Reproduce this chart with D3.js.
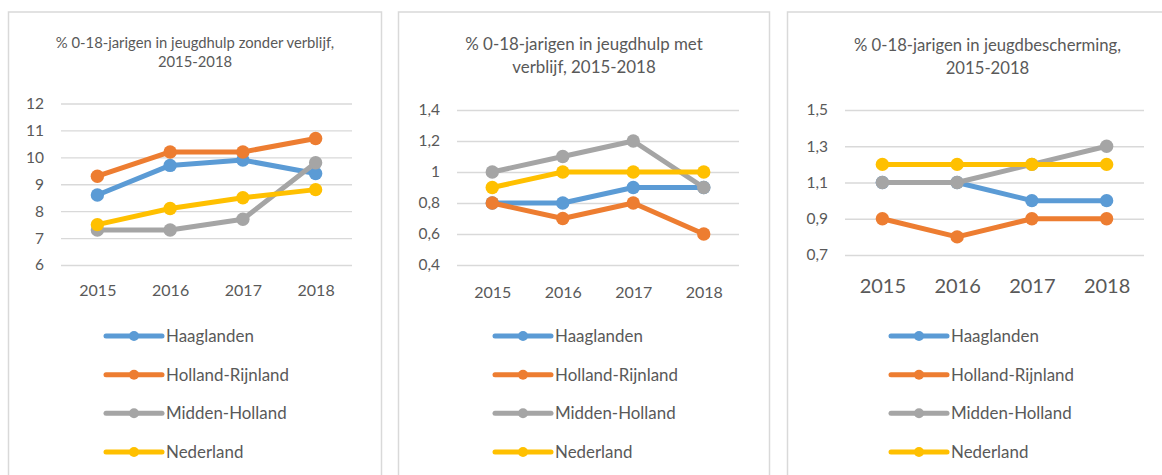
<!DOCTYPE html>
<html>
<head>
<meta charset="utf-8">
<script src="https://cdn.jsdelivr.net/npm/d3@7"></script>
<style>
  body { margin: 0; background: #fff; }
  svg { display: block; font-family: Lato, "Open Sans", sans-serif; }
  .tick line { stroke: #d9d9d9; stroke-width: 1.3; }
  text { fill: #595959; }
</style>
</head>
<body>
<div id="chart"></div>
<script>
const years = ['2015', '2016', '2017', '2018']
const seriesNames = ['Haaglanden', 'Holland-Rijnland', 'Midden-Holland', 'Nederland']
const seriesColors = ['#5b9bd5', '#ed7d31', '#a5a5a5', '#ffc000']

// % 0-18-jarigen in jeugdhulp zonder verblijf (rows follow seriesNames)
const zonderVerblijf = [
    [8.6, 9.7, 9.9, 9.4],
    [9.3, 10.2, 10.2, 10.7],
    [7.3, 7.3, 7.7, 9.8],
    [7.5, 8.1, 8.5, 8.8]
]
const ticksZonder = [6, 7, 8, 9, 10, 11, 12]

// % 0-18-jarigen in jeugdhulp met verblijf
const metVerblijf = [
    [0.8, 0.8, 0.9, 0.9],
    [0.8, 0.7, 0.8, 0.6],
    [1.0, 1.1, 1.2, 0.9],
    [0.9, 1.0, 1.0, 1.0]
]
const ticksMet = [0.4, 0.6, 0.8, 1.0, 1.2, 1.4]

// % 0-18-jarigen in jeugdbescherming
const bescherming = [
    [1.1, 1.1, 1.0, 1.0],
    [0.9, 0.8, 0.9, 0.9],
    [1.1, 1.1, 1.2, 1.3],
    [1.2, 1.2, 1.2, 1.2]
]
const ticksBescherming = [0.7, 0.9, 1.1, 1.3, 1.5]

const nl = d3.formatLocale({ decimal: ',', thousands: '.', grouping: [3], currency: ['€', ''] })

// layout of the three panels
const panels = [
    {
        title: ['% 0-18-jarigen in jeugdhulp zonder verblijf,', '2015-2018'],
        titleSize: 14.8, titleY: [47.5, 66.5],
        data: zonderVerblijf, ticks: ticksZonder, fmt: nl.format('d'),
        box: [8.5, 381.5], plot: { left: 61, right: 352, top: 103.5, bottom: 265 },
        xSize: 16, xPad: 20, legendX: 106
    },
    {
        title: ['% 0-18-jarigen in jeugdhulp met', 'verblijf, 2015-2018'],
        titleSize: 16.9, titleY: [50, 72.5],
        data: metVerblijf, ticks: ticksMet, fmt: d => nl.format('~g')(d),
        box: [398.5, 769.5], plot: { left: 457, right: 739, top: 110, bottom: 265 },
        xSize: 16, xPad: 22, legendX: 495
    },
    {
        title: ['% 0-18-jarigen in jeugdbescherming,', '2015-2018'],
        titleSize: 16.7, titleY: [51, 74],
        data: bescherming, ticks: ticksBescherming, fmt: nl.format('.1f'),
        box: [787.5, 1187.5], plot: { left: 845, right: 1144, top: 110, bottom: 255 },
        xSize: 20, xPad: 24, legendX: 891
    }
]

const legendRows = [336, 374.7, 413.3, 452]

const svg = d3.select('#chart')
    .append('svg')
    .attr('width', 1162)
    .attr('height', 475)

panels.forEach(p => {
    const g = svg.append('g')

    // frame
    g.append('rect')
        .attr('x', p.box[0])
        .attr('y', 12)
        .attr('width', p.box[1] - p.box[0])
        .attr('height', 500)
        .attr('fill', '#fff')
        .attr('stroke', '#d9d9d9')
        .attr('stroke-width', 1.5)

    // title
    const centre = (p.box[0] + p.box[1]) / 2
    g.selectAll('.title')
        .data(p.title)
        .enter()
        .append('text')
        .attr('class', 'title')
        .attr('x', centre)
        .attr('y', (d, i) => p.titleY[i])
        .attr('text-anchor', 'middle')
        .style('font-size', p.titleSize + 'px')
        .text(d => d)

    // scales
    const xScale = d3.scalePoint()
        .domain(years)
        .range([p.plot.left, p.plot.right])
        .padding(0.5)

    const yScale = d3.scaleLinear()
        .domain(d3.extent(p.ticks))
        .range([p.plot.bottom, p.plot.top])

    // y axis with gridlines
    const yAxis = g.append('g')
        .attr('transform', `translate(${p.plot.left}, 0)`)
        .call(d3.axisLeft(yScale)
            .tickValues(p.ticks)
            .tickFormat(p.fmt)
            .tickSize(-(p.plot.right - p.plot.left))
            .tickPadding(17))
    yAxis.select('.domain').remove()
    yAxis.selectAll('text')
        .attr('fill', '#595959')
        .style('font-size', '15.5px')
        .style('font-family', 'Lato, sans-serif')

    // x axis labels
    const xAxis = g.append('g')
        .attr('transform', `translate(0, ${p.plot.bottom})`)
        .call(d3.axisBottom(xScale).tickSize(0).tickPadding(p.xPad))
    xAxis.select('.domain').remove()
    xAxis.selectAll('text')
        .attr('fill', '#595959')
        .style('font-size', p.xSize + 'px')
        .style('font-family', 'Lato, sans-serif')

    // lines and markers, one series after another
    const line = d3.line()
        .x((d, i) => xScale(years[i]))
        .y(d => yScale(d))

    p.data.forEach((values, s) => {
        g.append('path')
            .datum(values)
            .attr('d', line)
            .attr('fill', 'none')
            .attr('stroke', seriesColors[s])
            .attr('stroke-width', 5)
            .attr('stroke-linejoin', 'round')

        g.selectAll('.dot-' + s)
            .data(values)
            .enter()
            .append('circle')
            .attr('class', 'dot-' + s)
            .attr('cx', (d, i) => xScale(years[i]))
            .attr('cy', d => yScale(d))
            .attr('r', 6.7)
            .attr('fill', seriesColors[s])
    })

    // legend
    const legend = g.selectAll('.legend')
        .data(seriesNames)
        .enter()
        .append('g')
        .attr('class', 'legend')
        .attr('transform', (d, i) => `translate(${p.legendX}, ${legendRows[i]})`)

    legend.append('line')
        .attr('x1', 0)
        .attr('x2', 56)
        .attr('stroke', (d, i) => seriesColors[i])
        .attr('stroke-width', 5)
        .attr('stroke-linecap', 'round')

    legend.append('circle')
        .attr('cx', 28)
        .attr('r', 5)
        .attr('fill', (d, i) => seriesColors[i])

    legend.append('text')
        .attr('x', 60)
        .attr('y', 6)
        .style('font-size', '16.9px')
        .text(d => d)
})
</script>
</body>
</html>
